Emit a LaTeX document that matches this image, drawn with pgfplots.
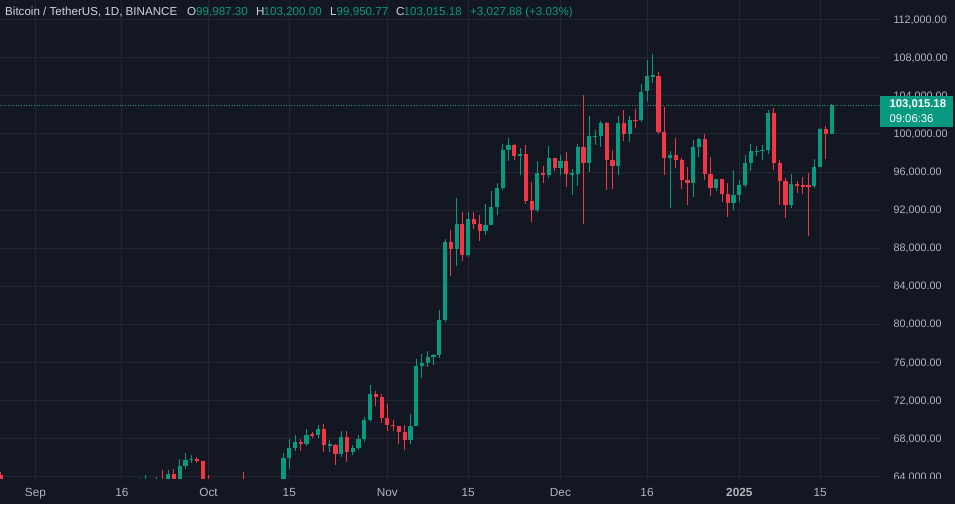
\documentclass[border=0pt]{standalone}
\usepackage{pgfplots}
\usepackage{pgfplotstable}
\pgfplotsset{compat=1.18}
\usepackage{fontspec}
\setmainfont{Liberation Sans}
\definecolor{bg}{HTML}{131722}
\definecolor{gridc}{HTML}{232733}
\definecolor{tvgreen}{HTML}{089981}
\definecolor{tvred}{HTML}{F23645}
\definecolor{lbl}{HTML}{B2B5BE}
\definecolor{ttl}{HTML}{D1D4DC}

% up candles (close >= open): day index from 1 Sep 2024
\pgfplotstableread{
d o h l c
1 57301 59425 57128 59133
3 57487 58519 55606 57971
6 53962 54850 53745 54160
7 54160 55318 53629 54869
8 54869 58088 54591 57042
9 57042 58044 56386 57635
11 57339 58588 57325 58127
12 58127 60625 57633 60571
16 58192 61320 57610 60309
17 60309 61786 59174 61759
18 61759 63850 61555 62947
19 62948 64133 62350 63192
20 63192 63559 62758 63348
21 63348 64000 62357 63578
23 63339 64688 62700 64262
25 63152 65839 62670 65173
26 65173 66498 64819 65769
27 65769 66260 65422 65858
32 60649 61470 59828 60752
33 60752 62484 60459 62086
35 62058 62975 61798 62819
40 60274 63417 60087 62445
41 62445 63480 62387 63193
43 62851 66500 62457 65990
44 65990 67950 64800 67042
45 67042 68424 66750 67612
47 67399 68969 67177 68419
49 68363 69400 68100 69001
51 67361 67836 66571 67367
53 66432 68850 66048 68161
55 66642 67317 66314 67014
56 67014 68332 66813 67929
57 67929 70270 67617 69907
58 69907 73620 69730 72720
65 67811 70577 67458 69359
66 69359 76400 69298 75639
67 75639 76850 74416 75904
68 75904 77199 75559 76545
69 76545 76927 75744 76778
70 76778 81500 76492 80474
71 80474 89000 80216 88701
73 87955 93265 86127 90584
75 87250 91850 87074 91066
78 89846 92594 89376 90464
79 90465 94002 90406 92310
80 92310 94831 91500 94286
81 94286 98988 94067 98317
82 98317 99588 97122 98892
84 97673 98565 95734 97900
87 91965 97208 91792 95863
89 95643 98693 95407 97460
91 96407 97836 95693 97185
93 95840 96305 93578 95849
94 95849 99000 94587 98587
96 96945 101898 95981 99740
97 99740 100439 98844 99831
98 99831 101350 98657 101109
101 96593 101888 95658 101125
103 100004 101895 99205 101424
105 101420 105250 101237 104463
106 104463 107793 103333 106058
107 106058 108353 105321 106133
110 97461 98233 92232 97805
114 94878 99416 93404 98663
115 98663 99569 97632 99430
118 94299 95300 94000 95300
121 92792 96250 92033 93576
122 93576 95149 92870 94591
123 94591 97839 94392 96984
124 96984 98976 96100 98174
125 98174 98734 97735 98236
126 98236 98813 97291 98363
127 98363 102480 97920 102235
131 92552 95836 92206 94726
135 94536 97371 94346 96560
136 96560 100681 96500 100497
138 99987.30 103200 99950.77 103015.18
}\upT

% down candles (close < open)
\pgfplotstableread{
d o h l c
-6 64220 64481 62800 62834
0 58974 59076 57201 57301
2 59133 59809 57415 57487
4 57971 58327 55643 56160
5 56160 56995 52550 53962
10 57635 57981 55545 57339
13 60571 60662 59417 60005
14 60005 60381 58697 59182
15 59182 59210 57493 58192
22 63578 64745 62538 63339
24 64262 64817 62947 63152
28 65858 66076 65432 65602
29 65602 65618 62856 63327
30 63327 64130 60164 60805
31 60805 62370 59996 60649
34 62086 62370 61689 62058
36 62819 64478 62128 62224
37 62224 63200 61860 62134
38 62134 62543 60300 60582
39 60582 61320 58946 60274
42 63193 63285 62050 62851
46 67612 67939 66666 67399
48 68419 68694 68020 68363
50 69001 69487 66560 67367
52 67361 67451 65260 66432
54 68161 68771 65521 66642
59 72720 72961 71436 72339
60 72339 72700 69685 70216
61 70216 71632 68779 69482
62 69482 69974 68850 69289
63 69289 69361 67478 68741
64 68741 69432 66803 67811
72 88701 89956 85073 87955
74 90584 91765 86668 87250
76 91066 91779 90056 90558
77 90558 91449 88722 89845
83 98893 98899 97232 97673
85 97901 98871 92600 93011
86 93011 94973 90791 91965
88 95863 96650 94827 95643
90 97460 97463 96092 96407
92 97185 98130 94395 95840
95 98587 104088 90500 96945
99 101109 101215 94150 97276
100 97276 98270 94256 96593
102 101125 102540 99311 100004
104 101424 102650 100610 101420
108 106133 106524 100000 100204
109 100204 102800 95700 97461
111 97805 99540 96398 97291
112 97291 97448 94250 95186
113 95186 96538 92520 94878
116 99430 99963 95199 95792
117 95792 97544 93500 94299
119 95300 95300 92881 93738
120 93738 94903 91317 92792
128 102235 102724 96181 96954
129 96954 97258 92500 95060
130 95060 95382 91203 92552
132 94726 95050 93831 94599
133 94599 95450 93711 94545
134 94545 95940 89256 94536
137 100497 100866 97335 99987
}\downT

\newcommand{\hf}{\fontsize{11.6}{14}\selectfont}

\begin{document}
\begin{tikzpicture}
\path[use as bounding box, fill=bg] (0,0) rectangle (955pt,504pt);
\begin{axis}[
  at={(0pt,25.5pt)}, anchor=south west,
  scale only axis, width=880pt, height=478.5pt,
  xmin=-6.135, xmax=146.38, ymin=63811, ymax=114074,
  axis line style={draw=none},
  tick style={draw=none}, major tick length=0pt,
  scaled y ticks=false,
  xtick={0,15,30,44,61,75,91,106,122,136},
  xticklabels={Sep,16,Oct,15,Nov,15,Dec,16,\textbf{2025},15},
  ytick={64000,68000,72000,76000,80000,84000,88000,92000,96000,100000,104000,108000,112000},
  yticklabel pos=right,
  grid=major, grid style={draw=gridc, line width=1pt},
  xticklabel style={font=\fontsize{11.8}{14}\selectfont, text=lbl, anchor=base, inner sep=0pt, yshift=-17.5pt},
  yticklabel style={font=\fontsize{10.8}{13}\selectfont, text=lbl, anchor=west, inner sep=0pt, text height=0.72em, text depth=0pt, xshift=13.3pt},
  candle/.style={only marks, mark=*, mark size=0pt, mark options={draw=none, fill=none}},
  /pgf/number format/.cd, fixed, fixed zerofill, precision=2, 1000 sep={,}, assume math mode=true,
]
% dotted last-price line
\addplot[tvgreen, line width=0.8pt, dash pattern=on 1pt off 1.6pt] coordinates {(-7,103015.18) (147,103015.18)};
% wicks
\addplot[candle, error bars/.cd, y dir=both, y explicit, error mark=none,
  error bar style={line width=1pt, draw=tvgreen, solid}]
  table[x=d, y expr={(\thisrow{h}+\thisrow{l})/2}, y error expr={(\thisrow{h}-\thisrow{l})/2}] {\upT};
\addplot[candle, error bars/.cd, y dir=both, y explicit, error mark=none,
  error bar style={line width=1pt, draw=tvred, solid}]
  table[x=d, y expr={(\thisrow{h}+\thisrow{l})/2}, y error expr={(\thisrow{h}-\thisrow{l})/2}] {\downT};
% bodies
\addplot[candle, error bars/.cd, y dir=both, y explicit, error mark=none,
  error bar style={line width=4.2pt, draw=tvgreen, solid}]
  table[x=d, y expr={(\thisrow{o}+\thisrow{c})/2}, y error expr={max(abs(\thisrow{c}-\thisrow{o})/2,50)}] {\upT};
\addplot[candle, error bars/.cd, y dir=both, y explicit, error mark=none,
  error bar style={line width=4.2pt, draw=tvred, solid}]
  table[x=d, y expr={(\thisrow{o}+\thisrow{c})/2}, y error expr={max(abs(\thisrow{c}-\thisrow{o})/2,50)}] {\downT};
\end{axis}
% time strip under the price scale (clips the 64,000 label)
\fill[bg] (880pt,0pt) rectangle (955pt,25.5pt);
% last price label
\fill[tvgreen] (880pt,377.3pt) rectangle (952.7pt,408pt);
\node[anchor=base west, inner sep=0pt, text=white, font=\bfseries\fontsize{11.3}{13}\selectfont] at (889.3pt,396.6pt) {103,015.18};
\node[anchor=base west, inner sep=0pt, text=white, font=\fontsize{11.3}{13}\selectfont] at (889.3pt,381.6pt) {09:06:36};
% header
\node[anchor=base west, inner sep=0pt, text=ttl, font=\hf] at (5pt,488pt) {Bitcoin / TetherUS, 1D, BINANCE};
\node[anchor=base west, inner sep=0pt, text=ttl, font=\hf] at (187pt,488pt) {O};
\node[anchor=base west, inner sep=0pt, text=tvgreen, font=\hf] at (196pt,488pt) {99,987.30};
\node[anchor=base west, inner sep=0pt, text=ttl, font=\hf] at (256pt,488pt) {H};
\node[anchor=base west, inner sep=0pt, text=tvgreen, font=\hf] at (263.5pt,488pt) {103,200.00};
\node[anchor=base west, inner sep=0pt, text=ttl, font=\hf] at (330pt,488pt) {L};
\node[anchor=base west, inner sep=0pt, text=tvgreen, font=\hf] at (336.5pt,488pt) {99,950.77};
\node[anchor=base west, inner sep=0pt, text=ttl, font=\hf] at (396pt,488pt) {C};
\node[anchor=base west, inner sep=0pt, text=tvgreen, font=\hf] at (403.5pt,488pt) {103,015.18};
\node[anchor=base west, inner sep=0pt, text=tvgreen, font=\hf] at (470pt,488pt) {+3,027.88 (+3.03\%)};
\end{tikzpicture}
\end{document}
